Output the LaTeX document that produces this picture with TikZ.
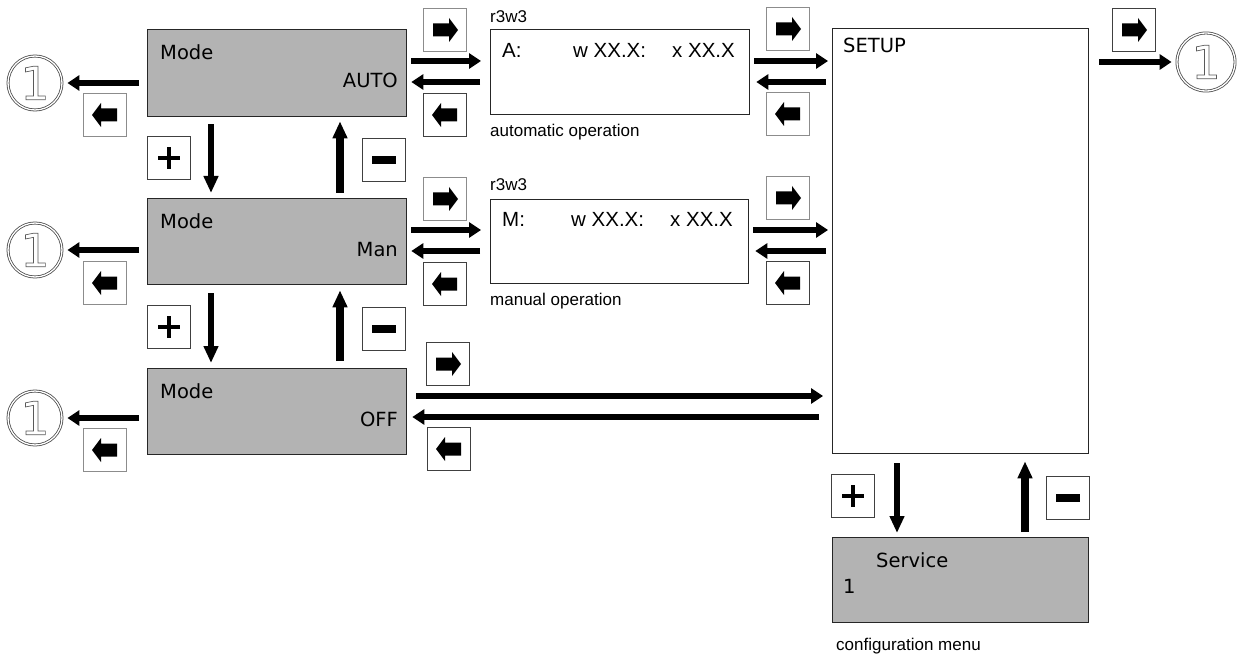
\documentclass[tikz,border=0pt]{standalone}
\usepackage{fontspec}
\setmainfont{DejaVu Sans}
\newfontfamily\arialf{Liberation Sans}
\usetikzlibrary{arrows.meta,calc}
\definecolor{boxgray}{RGB}{179,179,179}
\newcommand\keyR[1]{\fill ([shift={(-12,-6.5)}]#1.center) -- ++(16,0) -- ++(0,-5.5) -- ++(9,12) -- ++(-9,12) -- ++(0,-5.5) -- ++(-16,0) -- cycle;}
\newcommand\keyL[1]{\fill ([shift={(12,-6.5)}]#1.center) -- ++(-16,0) -- ++(0,-5.5) -- ++(-9,12) -- ++(9,12) -- ++(0,-5.5) -- ++(16,0) -- cycle;}
\newcommand\keyP[1]{\fill ([shift={(-11,-2.4)}]#1.center) rectangle ++(22,4.8); \fill ([shift={(-2.4,-11)}]#1.center) rectangle ++(4.8,22);}
\newcommand\keyM[1]{\fill ([shift={(-12,-3.6)}]#1.center) rectangle ++(24,7.2);}
\newcommand\outl[1]{\special{pdf:code q 1 Tr 0.7 w 0.35 0.35 0.35 RG}#1\special{pdf:code Q}}
\begin{document}
\begin{tikzpicture}[x=1pt,y=-1pt,
  gbox/.style={draw=black!85, line width=1.3pt, fill=boxgray, minimum width=259pt, minimum height=86pt, inner sep=0pt, anchor=north west},
  wbox/.style={draw=black!85, line width=1.3pt, fill=white, inner sep=0pt, anchor=north west},
  keybox/.style={draw=black!75, line width=1.2pt, minimum size=43pt, inner sep=0pt, fill=white},
  gkeybox/.style={keybox, draw=black!45},
  onecirc/.style={circle, draw=black!70, double=white, double distance=1.3pt, line width=0.8pt, inner sep=0pt, minimum size=#1, font=\fontsize{46}{46}\selectfont},
  harrow/.style={line width=6.5pt, -{Triangle[length=12pt,width=15pt]}},
  darrow/.style={line width=5.5pt, -{Triangle[length=17pt,width=14pt]}},
  uarrow/.style={line width=7.5pt, -{Triangle[length=17pt,width=14pt]}},
  bigtxt/.style={font=\fontsize{19.5}{22}\selectfont, inner sep=0pt},
  lcdtxt/.style={font=\arialf\fontsize{20.5}{24}\selectfont, inner sep=0pt, anchor=base west},
  smtxt/.style={font=\arialf\fontsize{17}{20}\selectfont, inner sep=0pt, anchor=base west},
]
\useasboundingbox (0,0) rectangle (1241,660);

% gray mode boxes
\node[gbox, minimum height=87pt] (auto) at (147,29) {};
\node[gbox] (man) at (147,198) {};
\node[gbox] (off) at (147,368) {};
\node[bigtxt, anchor=base west] (tauto1) at (160,60) {Mode};
\node[bigtxt, anchor=base east] (tauto2) at (398,88) {AUTO};
\node[bigtxt, anchor=base west] (tman1) at (160,229) {Mode};
\node[bigtxt, anchor=base east] (tman2) at (398,257) {Man};
\node[bigtxt, anchor=base west] (toff1) at (160,398) {Mode};
\node[bigtxt, anchor=base east] (toff2) at (398,426) {OFF};

% display boxes
\node[wbox, minimum width=259pt, minimum height=85pt] (abox) at (490,29) {};
\node[wbox, minimum width=258pt, minimum height=84pt] (mbox) at (490,199) {};
\node[smtxt] (ar) at (490,23) {r3w3};
\node[lcdtxt] (a1) at (502,58) {A:};
\node[lcdtxt] (a2) at (573,58) {w XX.X:};
\node[lcdtxt] (a3) at (672,58) {x XX.X};
\node[smtxt] (a4) at (490,137) {automatic operation};
\node[smtxt] (mr) at (490,191) {r3w3};
\node[lcdtxt] (m1) at (502,227) {M:};
\node[lcdtxt] (m2) at (571,227) {w XX.X:};
\node[lcdtxt] (m3) at (670,227) {x XX.X};
\node[smtxt] (m4) at (490,305) {manual operation};

% setup and service
\node[wbox, minimum width=256pt, minimum height=425pt] (setup) at (832,28) {};
\node[bigtxt, anchor=base west] (tsetup) at (843,53) {SETUP};
\node[gbox, minimum width=256pt, minimum height=85pt] (service) at (832,537) {};
\node[bigtxt, anchor=base west] (tserv1) at (876,567) {Service};
\node[bigtxt, anchor=base west] (tserv2) at (843,593) {1};
\node[smtxt] (tconf) at (836,650) {configuration menu};

% circled ones
\node[onecirc=54pt] (c1) at (35,83) {\outl{1}};
\node[onecirc=54pt] (c2) at (35,250) {\outl{1}};
\node[onecirc=54pt] (c3) at (35,418) {\outl{1}};
\node[onecirc=58pt] (c4) at (1206,62) {\outl{1}};

% key boxes
\node[gkeybox] (kL1) at (105,115) {}; \keyL{kL1}
\node[gkeybox] (kL2) at (105,283) {}; \keyL{kL2}
\node[gkeybox] (kL3) at (105,450) {}; \keyL{kL3}
\node[keybox] (kP1) at (169,158) {}; \keyP{kP1}
\node[keybox] (kM1) at (384,160) {}; \keyM{kM1}
\node[keybox] (kP2) at (169,327) {}; \keyP{kP2}
\node[keybox] (kM2) at (384,329) {}; \keyM{kM2}
\node[gkeybox] (kR1) at (445,30) {}; \keyR{kR1}
\node[keybox] (kB1) at (445,115) {}; \keyL{kB1}
\node[gkeybox] (kR2) at (445,199) {}; \keyR{kR2}
\node[keybox] (kB2) at (445,284) {}; \keyL{kB2}
\node[gkeybox] (kR3) at (788,29) {}; \keyR{kR3}
\node[gkeybox] (kB3) at (788,114) {}; \keyL{kB3}
\node[gkeybox] (kR4) at (788,198) {}; \keyR{kR4}
\node[keybox] (kB4) at (788,283) {}; \keyL{kB4}
\node[keybox] (kR5) at (448,364) {}; \keyR{kR5}
\node[keybox] (kB5) at (449,449) {}; \keyL{kB5}
\node[keybox] (kR6) at (1134,30) {}; \keyR{kR6}
\node[keybox] (kP3) at (853,496) {}; \keyP{kP3}
\node[keybox] (kM3) at (1068,498) {}; \keyM{kM3}

% arrows to circles
\draw[harrow] ($(auto.west |- c1.east)+(-8,0)$) -- ([xshift=5pt]c1.east);
\draw[harrow] ($(man.west |- c2.east)+(-8,0)$) -- ([xshift=5pt]c2.east);
\draw[harrow] ($(off.west |- c3.east)+(-8,0)$) -- ([xshift=5pt]c3.east);
\draw[harrow] ($(setup.north east)+(10,34)$) -- ([xshift=-5pt]c4.west);

% mode <-> display
\draw[harrow] ($(auto.north east)+(4,32)$) -- ($(abox.north west)+(-9,32)$);
\draw[harrow] ($(abox.north west)+(-10,53)$) -- ($(auto.north east)+(4,53)$);
\draw[harrow] ($(man.north east)+(4,32)$) -- ($(mbox.north west)+(-9,31)$);
\draw[harrow] ($(mbox.north west)+(-10,52)$) -- ($(man.north east)+(4,53)$);

% display <-> setup
\draw[harrow] ($(abox.north east)+(4,32)$) -- ($(setup.north west)+(-4,33)$);
\draw[harrow] ($(setup.north west)+(-6,54)$) -- ($(abox.north east)+(6,53)$);
\draw[harrow] ($(mbox.north east)+(4,31)$) -- ($(setup.north west)+(-4,202)$);
\draw[harrow] ($(setup.north west)+(-6,223)$) -- ($(mbox.north east)+(6,52)$);

% off <-> setup
\draw[harrow] ($(off.north east)+(9,28)$) -- ($(setup.north west)+(-9,368)$);
\draw[harrow] ($(setup.north west)+(-13,389)$) -- ($(off.north east)+(5,49)$);

% vertical
\draw[darrow] ($(auto.south west)+(64,7)$) -- ($(man.north west)+(64,-5)$);
\draw[uarrow] ($(man.north west)+(193,-5)$) -- ($(auto.south west)+(193,4)$);
\draw[darrow] ($(man.south west)+(64,8)$) -- ($(off.north west)+(64,-5)$);
\draw[uarrow] ($(off.north west)+(193,-7)$) -- ($(man.south west)+(193,5)$);
\draw[darrow] ($(setup.south west)+(65,9)$) -- ($(service.north west)+(65,-4)$);
\draw[uarrow] ($(service.north west)+(193,-5)$) -- ($(setup.south west)+(193,7)$);
\end{tikzpicture}
\end{document}
